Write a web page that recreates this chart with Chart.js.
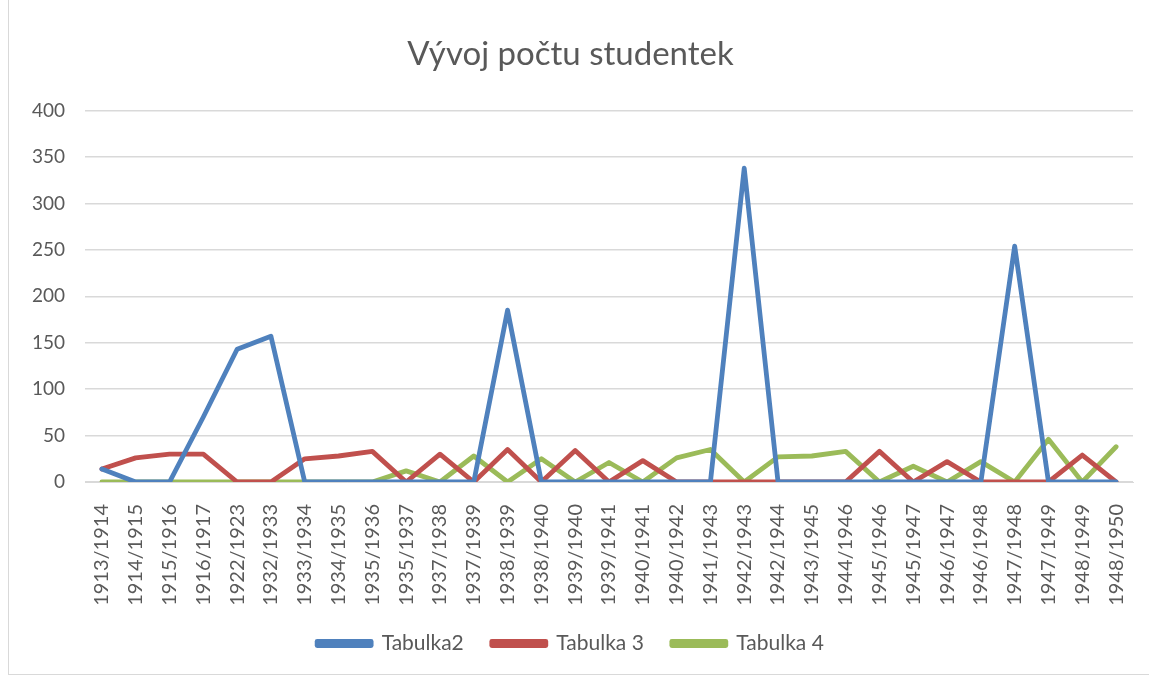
<!DOCTYPE html>
<html>
<head>
<meta charset="utf-8">
<script src="https://cdn.jsdelivr.net/npm/chart.js@4.4.1/dist/chart.umd.min.js"></script>
<style>
  html, body { margin: 0; padding: 0; background: #fff; overflow: hidden; }
  #wrap {
    position: absolute; left: 8px; top: -2px;
    width: 1160px; height: 677px;
    border: 1px solid #d9d9d9; box-sizing: border-box;
  }
  #c { position: absolute; left: 0; top: 0; }
</style>
</head>
<body>
<div id="wrap"></div>
<canvas id="c" width="1149" height="677"></canvas>
<script>
(() => {
    // data
    const labels = [
        '1913/1914', '1914/1915', '1915/1916', '1916/1917', '1922/1923', '1932/1933',
        '1933/1934', '1934/1935', '1935/1936', '1935/1937', '1937/1938', '1937/1939',
        '1938/1939', '1938/1940', '1939/1940', '1939/1941', '1940/1941', '1940/1942',
        '1941/1943', '1942/1943', '1942/1944', '1943/1945', '1944/1946', '1945/1946',
        '1945/1947', '1946/1947', '1946/1948', '1947/1948', '1947/1949', '1948/1949',
        '1948/1950'
    ];
    const tabulka2 = [14, 0, 0, 70, 143, 157, 0, 0, 0, 0, 0, 0, 185, 0, 0, 0, 0, 0, 0, 338, 0, 0, 0, 0, 0, 0, 0, 254, 0, 0, 0];
    const tabulka3 = [14, 26, 30, 30, 0, 0, 25, 28, 33, 0, 30, 0, 35, 0, 34, 0, 23, 0, 0, 0, 0, 0, 0, 33, 0, 22, 0, 0, 0, 29, 0];
    const tabulka4 = [0, 0, 0, 0, 0, 0, 0, 0, 0, 12, 0, 28, 0, 25, 0, 21, 0, 26, 35, 0, 27, 28, 33, 0, 17, 0, 22, 0, 46, 0, 38];

    const FONT = 'Lato, "Liberation Sans", sans-serif';
    const TEXT = '#595959';
    const GRID = '#d9d9d9';

    const mkSet = (label, data, color) => ({
        label, data,
        borderColor: color,
        backgroundColor: color,
        borderWidth: 4.8,
        pointRadius: 0,
        tension: 0,
        borderCapStyle: 'round',
        borderJoinStyle: 'round'
    });

    new Chart(document.getElementById('c'), {
        type: 'line',
        data: {
            labels,
            datasets: [
                mkSet('Tabulka2', tabulka2, '#4f81bd'),
                mkSet('Tabulka 3', tabulka3, '#c0504d'),
                mkSet('Tabulka 4', tabulka4, '#9bbb59')
            ]
        },
        options: {
            responsive: false,
            animation: false,
            devicePixelRatio: 1,
            layout: { padding: { left: 8, right: 16, top: 14, bottom: 13 } },
            plugins: {
                title: {
                    display: true,
                    text: 'Vývoj počtu studentek',
                    color: TEXT,
                    font: { family: FONT, size: 33, weight: 'normal' },
                    padding: { top: 21, bottom: 36 }
                },
                legend: {
                    position: 'bottom',
                    labels: {
                        color: TEXT,
                        font: { family: FONT, size: 21 },
                        boxWidth: 54,
                        boxHeight: 4,
                        padding: 28
                    }
                },
                tooltip: { enabled: false }
            },
            scales: {
                x: {
                    offset: true,
                    grid: { display: false },
                    border: { color: GRID, width: 1 },
                    ticks: {
                        color: TEXT,
                        font: { family: FONT, size: 20 },
                        minRotation: 90, maxRotation: 90,
                        autoSkip: false, padding: 14
                    },
                    afterFit: s => {
                        s.height = 123;
                        s.paddingLeft = 0;
                        s.paddingRight = 0;
                    }
                },
                y: {
                    min: 0, max: 400,
                    grid: { color: GRID, lineWidth: 1.5, drawTicks: false },
                    border: { display: false },
                    ticks: {
                        stepSize: 50,
                        color: TEXT,
                        font: { family: FONT, size: 19 },
                        padding: 20
                    },
                    afterFit: s => { s.width = 77; }
                }
            }
        }
    });
})();
</script>
</body>
</html>
